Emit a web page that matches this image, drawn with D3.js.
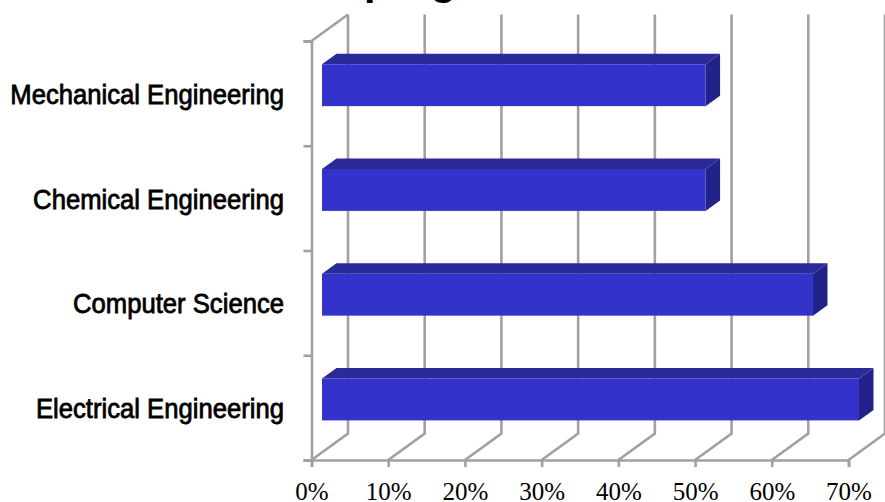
<!DOCTYPE html>
<html>
<head>
<meta charset="utf-8">
<script src="https://cdnjs.cloudflare.com/ajax/libs/d3/7.8.5/d3.min.js"></script>
<style>
html, body { margin: 0; padding: 0; background: #fff; overflow: hidden; }
svg { display: block; }
</style>
</head>
<body>
<div id="chart-area"></div>
<script>
var categories = ["Mechanical Engineering", "Chemical Engineering", "Computer Science", "Electrical Engineering"]
var shares = [50, 50, 64, 70]
var xTicks = [0, 10, 20, 30, 40, 50, 60, 70]
var titleText = "program"

var width = 885
var height = 502

var gridColor = "#a0a0a0"
var frontColor = "#3333cc"
var topColor = "#2a2a99"
var sideColor = "#222288"

// how far the back wall sits from the front of the box
var depthX = 36.5
var depthY = -26.5
// bar depth, and where the bar starts inside the box
var barDepthX = 14.5
var barDepthY = -10.5
var barInset = 10.5

var svg = d3.select("#chart-area").append("svg")
.attr("width", width)
.attr("height", height)

var x = d3.scaleLinear()
.domain([0, 70])
.range([311.5, 848.5])

var y = d3.scaleBand()
.domain(categories)
.range([41, 460])

// Clipped title, only the descenders show

svg.append("text")
.attr("x", 364)
.attr("y", -4.7)
.attr("font-family", "Liberation Sans")
.attr("font-weight", "bold")
.attr("font-size", "41.5px")
.style("fill", "black")
.text(titleText)

// Back wall and floor

var grid = svg.append("g")
.attr("fill", "none")
.attr("stroke", gridColor)
.attr("stroke-width", 2.6)

xTicks.forEach(t => {
	grid.append("path")
	.attr("d", d3.line()([
		[x(t), y.range()[1]],
		[x(t) + depthX, y.range()[1] + depthY],
		[x(t) + depthX, y.range()[0] + depthY]
	]))
})

// left wall top edge
grid.append("path")
.attr("d", d3.line()([
	[x(0), y.range()[0]],
	[x(0) + depthX, y.range()[0] + depthY]
]))

// Axes

var xAxisCall = d3.axisBottom(x)
.tickValues(xTicks)
.tickFormat(d => d + "%")
.tickSize(7)
.tickPadding(15.5)

var xAxisGroup = svg.append("g")
.attr("transform", "translate(0, " + y.range()[1] + ")")
.call(xAxisCall)

xAxisGroup.selectAll("text")
.attr("font-family", "Liberation Serif")
.attr("font-size", "25px")
.style("fill", "black")

var tickY = d3.scaleLinear()
.domain([0, categories.length])
.range([41, 460])

var yAxisCall = d3.axisLeft(tickY)
.tickValues(d3.range(categories.length + 1))
.tickFormat("")
.tickSize(8)

var yAxisGroup = svg.append("g")
.attr("transform", "translate(" + x(0) + ", 0)")
.call(yAxisCall)

svg.selectAll(".domain, .tick line")
.attr("stroke", gridColor)
.attr("stroke-width", 2.6)

// Category labels, squeezed sideways like the original

var labelScale = 0.95

svg.append("g").selectAll("text")
.data(categories)
.enter().append("text")
.attr("transform", d => "translate(284, " + (y(d) + y.bandwidth() * 0.6) + ") scale(" + labelScale + ", 1)")
.attr("text-anchor", "end")
.attr("font-family", "Liberation Sans")
.attr("font-size", "27px")
.style("fill", "black")
.style("stroke", "black")
.style("stroke-width", 0.8)
.text(d => d)

// Bars

var barHeight = y.bandwidth() * 0.4
var barOffset = y.bandwidth() * 0.222

var bars = svg.append("g").selectAll("g")
.data(categories)
.enter().append("g")

var barLeft = x(0) + barInset
var barRight = (d, i) => x(shares[i]) + barInset
var barTop = d => y(d) + barOffset

bars.append("path")
.attr("fill", topColor)
.attr("d", (d, i) => d3.line()([
	[barLeft, barTop(d)],
	[barLeft + barDepthX, barTop(d) + barDepthY],
	[barRight(d, i) + barDepthX, barTop(d) + barDepthY],
	[barRight(d, i), barTop(d)]
]) + "Z")

bars.append("path")
.attr("fill", sideColor)
.attr("d", (d, i) => d3.line()([
	[barRight(d, i), barTop(d)],
	[barRight(d, i) + barDepthX, barTop(d) + barDepthY],
	[barRight(d, i) + barDepthX, barTop(d) + barDepthY + barHeight],
	[barRight(d, i), barTop(d) + barHeight]
]) + "Z")

bars.append("rect")
.attr("x", barLeft)
.attr("y", d => barTop(d))
.attr("width", (d, i) => x(shares[i]) - x(0))
.attr("height", barHeight)
.attr("fill", frontColor)
</script>
</body>
</html>
